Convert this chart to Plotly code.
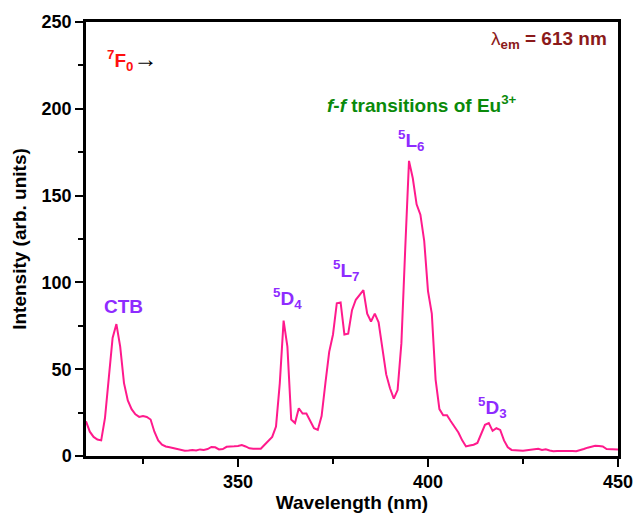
import plotly.graph_objects as go

wavelength = list(range(310, 451))
intensity = [
    20, 14, 11, 9.5, 9, 22, 45, 68, 76, 63,          # 310-319
    42, 32, 27, 24, 22.5, 23, 22.5, 21, 14, 9,       # 320-329
    6.5, 5.5, 5, 4.4, 4, 3.5, 3, 3.2, 3.5, 3.2,      # 330-339
    3.8, 3.5, 4, 5.2, 5, 3.8, 4, 5.3, 5.3, 5.6,      # 340-349
    5.8, 6.3, 5.5, 4.4, 4.2, 4, 4.2, 6.5, 9, 11,     # 350-359
    17, 42, 78, 63, 21, 19, 27.5, 24.5, 24.5, 20,    # 360-369
    16, 15, 23, 42, 60, 70, 88, 88.5, 70, 70.5,      # 370-379
    84, 90, 92.5, 95.5, 82, 77.5, 82, 77, 62, 47,    # 380-389
    39, 33, 38, 65, 119, 170, 160, 145, 139, 124,    # 390-399
    95, 82, 44, 27, 23.5, 23.5, 20, 17, 13.5, 9,     # 400-409
    5.5, 6, 6.5, 7.5, 13, 18, 19, 14.5, 16, 15,      # 410-419
    9, 5, 3.5, 3.2, 3, 3, 3.3, 3.5, 3.8, 4.2,        # 420-429
    3.5, 3.9, 3.2, 2.8, 2.9, 3, 2.9, 2.8, 2.9, 2.7,  # 430-439
    3.2, 4, 4.8, 5.5, 5.9, 5.8, 5.5, 4, 3.8, 3.8,    # 440-449
    3.8,                                             # 450
]

x_ticks = [350, 400, 450]
y_ticks = [0, 50, 100, 150, 200, 250]

FONT = "Arial, Liberation Sans, sans-serif"
PURPLE = "#8E2BFF"

fig = go.Figure()
fig.add_trace(go.Scatter(
    x=wavelength, y=intensity, mode="lines",
    line=dict(color="#FF1A8C", width=2),
    showlegend=False, hoverinfo="skip",
))

axis_common = dict(
    showline=True, linecolor="black", linewidth=2.5, mirror=True,
    ticks="outside", ticklen=8, tickwidth=2, tickcolor="black",
    showgrid=False, zeroline=False, automargin=False,
    tickfont=dict(family=FONT, size=18, color="black", weight="bold"),
)

fig.update_xaxes(
    range=[310, 450], tickvals=x_ticks,
    minor=dict(ticks="outside", ticklen=5, tickwidth=2, tickcolor="black", dtick=25, tick0=0, showgrid=False),
    title=dict(text="<b>Wavelength (nm)</b>", font=dict(family=FONT, size=19, color="black"), standoff=4),
    **axis_common,
)
fig.update_yaxes(
    range=[0, 250], tickvals=y_ticks,
    minor=dict(ticks="outside", ticklen=5, tickwidth=2, tickcolor="black", dtick=25, tick0=0, showgrid=False),
    title=dict(text="<b>Intensity (arb. units)</b>", font=dict(family=FONT, size=19, color="black"), standoff=10),
    **axis_common,
)

ann = [
    dict(x=319.8, y=86, text="<b>CTB</b>", color=PURPLE, xanchor="center"),
    dict(x=363.0, y=91, text="<b><sup>5</sup>D<sub>4</sub></b>", color=PURPLE, xanchor="center"),
    dict(x=378.5, y=107, text="<b><sup>5</sup>L<sub>7</sub></b>", color=PURPLE, xanchor="center"),
    dict(x=395.4, y=182, text="<b><sup>5</sup>L<sub>6</sub></b>", color=PURPLE, xanchor="center"),
    dict(x=417.0, y=28, text="<b><sup>5</sup>D<sub>3</sub></b>", color=PURPLE, xanchor="center"),
    dict(x=398.5, y=203, text="<b><i>f</i>-<i>f</i> transitions of Eu<sup>3+</sup></b>", color="#0A8A0A", xanchor="center"),
    dict(x=447.6, y=239.5, text="λ<b><sub>em</sub> = 613 nm</b>", color="#8B1A1A", xanchor="right"),
    dict(x=315.0, y=228.5, text="<b><sup>7</sup>F<sub>0</sub></b><span style='color:black;font-size:24px'>→</span>", color="#FF1010", xanchor="left"),
]
for a in ann:
    fig.add_annotation(
        x=a["x"], y=a["y"], xref="x", yref="y", text=a["text"], showarrow=False,
        xanchor=a["xanchor"], yanchor="middle",
        font=dict(family=FONT, size=19, color=a["color"]),
    )

fig.update_layout(
    width=636, height=514, autosize=False,
    margin=dict(l=86, r=18, t=22, b=58),
    paper_bgcolor="white", plot_bgcolor="white",
)

# remove the default 8px page margin so the 636x514 figure fills the window exactly
fig.write_html(
    "out.html",
    config={"responsive": False, "displayModeBar": False},
    post_script="document.body.style.margin='0';document.body.style.overflow='hidden';",
)
